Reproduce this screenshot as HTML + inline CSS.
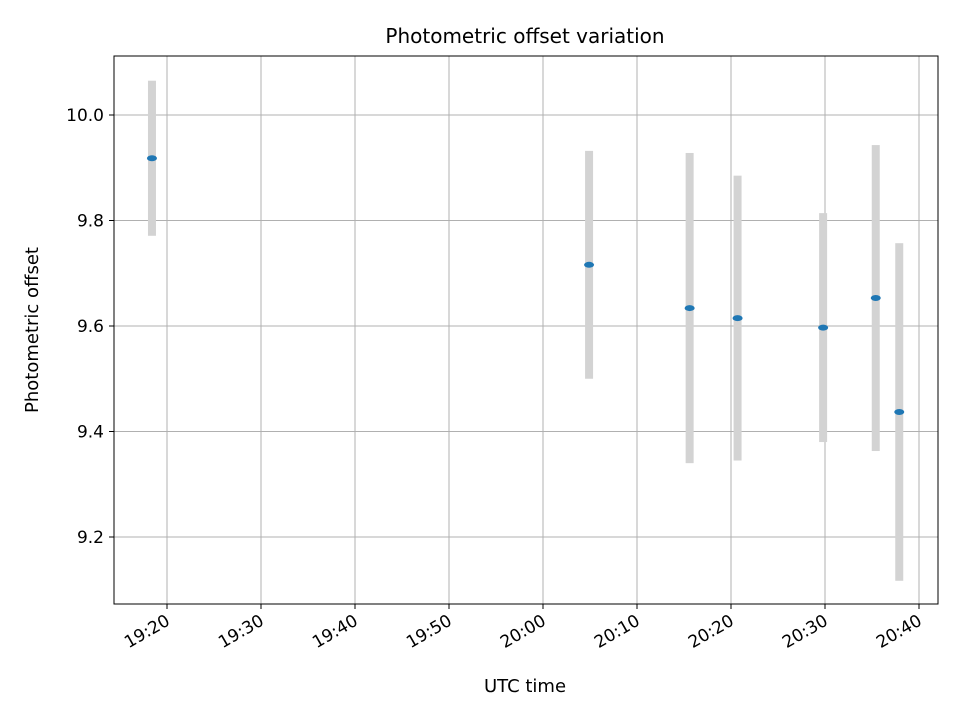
<!DOCTYPE html>
<html><head><meta charset="utf-8"><style>body{margin:0;background:#fff}svg text{font-family:"DejaVu Sans","Liberation Sans",sans-serif;fill:#000}</style></head>
<body>
<svg id="chart" width="960" height="720" viewBox="0 0 960 720">
<rect x="0" y="0" width="960" height="720" fill="#fff"/>
<text x="525" y="43" font-size="20" text-anchor="middle">Photometric offset variation</text>
<g id="grid"></g><g id="marks"></g><g id="axes"></g>
<rect x="114" y="56" width="824" height="548" fill="none" stroke="#000" stroke-width="1"/>
<text x="525" y="692" font-size="18" text-anchor="middle">UTC time</text>
<text transform="translate(38,330) rotate(-90)" font-size="18" text-anchor="middle">Photometric offset</text>
</svg>
<script>
// minutes after 19:20 UTC
const times = [-1.6, 44.9, 55.6, 60.7, 69.8, 75.4, 77.9];
const offsets = [9.918, 9.716, 9.634, 9.615, 9.597, 9.653, 9.437];
const errors = [0.147, 0.216, 0.294, 0.270, 0.217, 0.290, 0.320];
const xTickLabels = ["19:20","19:30","19:40","19:50","20:00","20:10","20:20","20:30","20:40"];
const xTickMinutes = [0,10,20,30,40,50,60,70,80];
const yTicks = [9.2, 9.4, 9.6, 9.8, 10.0];
const yTickLabels = ["9.2","9.4","9.6","9.8","10.0"];

const NS = "http://www.w3.org/2000/svg";
const X = m => 167 + m * 9.4;
const Y = v => 115 + (10 - v) * 527.5;
function mk(tag, attrs, parent){const e=document.createElementNS(NS,tag);for(const k in attrs)e.setAttribute(k,attrs[k]);parent.appendChild(e);return e;}
const grid=document.getElementById('grid'), marks=document.getElementById('marks'), axes=document.getElementById('axes');

xTickMinutes.forEach((m,i)=>{
  const x=X(m);
  const g=mk('line',{x1:x,x2:x,y1:56,y2:604,stroke:'#b0b0b0','stroke-width':1},grid);
  
  
  const t=mk('line',{x1:x,x2:x,y1:604,y2:609,stroke:'#000'},axes);
  
  
  const l=mk('text',{x:0,y:0,'font-size':17,'text-anchor':'end',transform:`translate(${x+4},${624}) rotate(-30)`},axes);
  l.textContent=xTickLabels[i];
  
  
});
yTicks.forEach((v,i)=>{
  const y=Y(v);
  const g=mk('line',{x1:114,x2:938,y1:y,y2:y,stroke:'#b0b0b0','stroke-width':1},grid);
  
  
  const t=mk('line',{x1:109,x2:114,y1:y,y2:y,stroke:'#000'},axes);
  
  
  const l=mk('text',{x:104,y:y+6,'font-size':17,'text-anchor':'end'},axes);
  l.textContent=yTickLabels[i];
  
  
});
times.forEach((m,i)=>{
  const x=X(m), top=Y(offsets[i]+errors[i]), bot=Y(offsets[i]-errors[i]);
  const b=mk('rect',{x:x-4,y:top,width:8,height:bot-top,fill:'#d3d3d3'},marks);
  
  
});
times.forEach((m,i)=>{
  const p=mk('ellipse',{cx:X(m),cy:Y(offsets[i]),rx:5,ry:3,fill:'#1f77b4'},marks);
  
  
});
</script>
</body></html>
